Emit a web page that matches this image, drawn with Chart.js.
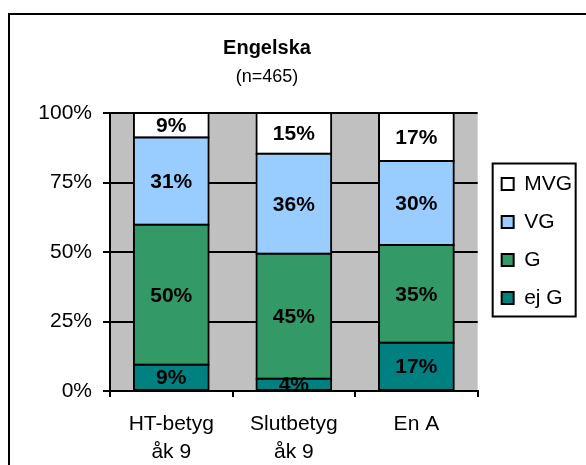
<!DOCTYPE html>
<html>
<head>
<meta charset="utf-8">
<script src="https://cdn.jsdelivr.net/npm/chart.js@4.4.1/dist/chart.umd.min.js"></script>
<style>
  body { margin: 0; background: #fff; }
</style>
</head>
<body>
<canvas id="Chart" width="586" height="465"></canvas>
<script>

// data (percent of students per grade)
let categories = [["HT-betyg", "åk 9"], ["Slutbetyg", "åk 9"], ["En A"]];
let ejG = [9.4, 4.4, 17.4];
let G   = [50.4, 45.0, 35.1];
let VG  = [31.4, 35.9, 30.2];
let MVG = [8.8, 14.7, 17.3];
let yTicks = [0, 25, 50, 75, 100];

let titleText = "Engelska";
let subtitleText = "(n=465)";

const fontFamily = "'Liberation Sans', Arial, sans-serif";

// grey plot background + outer frame + title
const backgroundPlugin = {
  id: 'background',
  afterLayout: function(chart) {
    // push the legend a bit away from the plot, like the original
    chart.legend.left += 7;
    chart.legend.right += 7;
  },
  beforeDraw: function(chart) {
    let ctx = chart.ctx;
    let a = chart.chartArea;
    ctx.save();
    ctx.fillStyle = '#fff';
    ctx.fillRect(0, 0, chart.width, chart.height);
    ctx.fillStyle = '#C0C0C0';
    ctx.fillRect(a.left, a.top, a.right - a.left, a.bottom - a.top);
    ctx.strokeStyle = '#000';
    ctx.lineWidth = 2;
    ctx.strokeRect(9, 14, 700, 700);

    ctx.fillStyle = '#000';
    ctx.textAlign = 'center';
    ctx.textBaseline = 'middle';
    ctx.font = 'bold 20px ' + fontFamily;
    ctx.fillText(titleText, 267, 48);
    ctx.font = '18px ' + fontFamily;
    ctx.fillText(subtitleText, 267, 77);
    ctx.restore();
  }
};

// percent labels in the middle of each bar segment
const labelPlugin = {
  id: 'segmentLabels',
  afterDatasetsDraw: function(chart) {
    let ctx = chart.ctx;
    ctx.save();
    ctx.fillStyle = '#000';
    ctx.font = 'bold 21px ' + fontFamily;
    ctx.textAlign = 'center';
    ctx.textBaseline = 'middle';
    chart.data.datasets.forEach(function(ds, i) {
      let meta = chart.getDatasetMeta(i);
      meta.data.forEach(function(bar, j) {
        let y = (bar.y + bar.base) / 2;
        ctx.fillText(Math.round(ds.data[j]) + '%', bar.x, y + 1);
      });
    });
    ctx.restore();
  }
};

// box round the legend
const legendFramePlugin = {
  id: 'legendFrame',
  afterDraw: function(chart) {
    let boxes = chart.legend.legendHitBoxes;
    if (!boxes || boxes.length == 0) return;
    let last = boxes[boxes.length - 1];
    let top = boxes[0].top, bottom = last.top + last.height;
    let left = boxes[0].left;
    let ctx = chart.ctx;
    ctx.save();
    ctx.strokeStyle = '#000';
    ctx.lineWidth = 2;
    ctx.strokeRect(left - 9, top - 10, 83, bottom - top + 18);
    ctx.restore();
  }
};

function makeDataset(label, data, color) {
  return {
    label: label,
    data: data,
    backgroundColor: color,
    borderColor: '#000',
    borderWidth: 2,
    borderSkipped: false,
    inflateAmount: 1,
    barPercentage: 0.61,
    categoryPercentage: 1.0
  };
}

let chart = new Chart(document.getElementById('Chart'), {
  type: 'bar',
  data: {
    labels: categories,
    datasets: [
      makeDataset('ej G', ejG, '#008080'),
      makeDataset('G', G, '#339966'),
      makeDataset('VG', VG, '#99CCFF'),
      makeDataset('MVG', MVG, '#FFFFFF')
    ]
  },
  options: {
    responsive: false,
    animation: false,
    layout: {
      padding: { top: 113, left: 0, right: 11, bottom: 0 }
    },
    scales: {
      x: {
        stacked: true,
        grid: {
          offset: true,
          drawOnChartArea: false,
          drawTicks: true,
          tickLength: 6,
          color: '#000',
          lineWidth: 2
        },
        border: { display: true, color: '#000', width: 2 },
        ticks: {
          color: '#000',
          font: { family: fontFamily, size: 21, lineHeight: 1.35 },
          padding: 13,
          maxRotation: 0
        },
        afterFit: function(scale) { scale.height = 74; }
      },
      y: {
        stacked: true,
        min: 0,
        max: 100,
        afterBuildTicks: function(scale) {
          scale.ticks = yTicks.map(function(v) { return { value: v }; });
        },
        grid: {
          color: '#000',
          lineWidth: 2,
          tickLength: 7
        },
        border: { display: true, color: '#000', width: 2 },
        ticks: {
          color: '#000',
          font: { family: fontFamily, size: 21 },
          padding: 11,
          callback: function(value) { return value + '%'; }
        },
        afterFit: function(scale) { scale.width = 110; }
      }
    },
    plugins: {
      title: { display: false },
      tooltip: { enabled: false },
      legend: {
        display: true,
        position: 'right',
        fullSize: false,
        align: 'start',
        reverse: true,
        title: {
          display: true,
          text: '',
          font: { size: 10, lineHeight: 1 },
          padding: { top: 33.5, bottom: 0 }
        },
        labels: {
          color: '#000',
          boxWidth: 12,
          boxHeight: 12,
          padding: 17,
          font: { family: fontFamily, size: 21 }
        }
      }
    }
  },
  plugins: [backgroundPlugin, labelPlugin, legendFramePlugin]
});

</script>
</body>
</html>
